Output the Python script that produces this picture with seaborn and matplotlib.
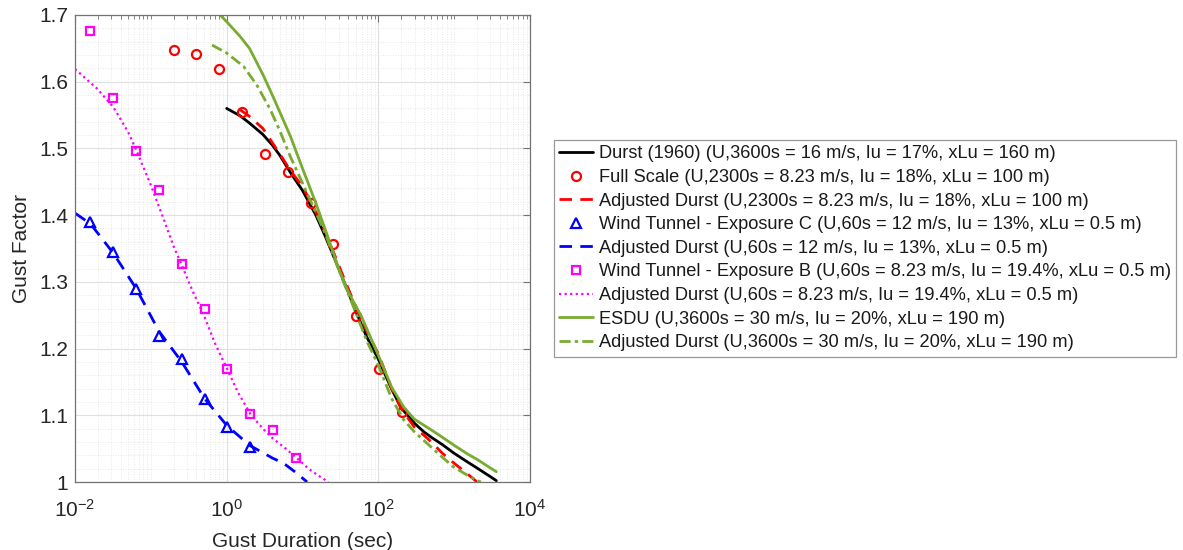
import numpy as np
import matplotlib
matplotlib.use('Agg')
import matplotlib.pyplot as plt
import matplotlib.ticker as mticker
import seaborn as sns

# Durst (1960)
durst_t = [1, 1.5, 2, 3, 4, 5, 7, 10, 15, 20, 30, 40, 50, 70, 100, 150, 200, 300, 400,
           500, 700, 1000, 1500, 2000, 3000, 3600]
durst_g = [1.560, 1.549, 1.538, 1.521, 1.505, 1.490, 1.463, 1.437, 1.400, 1.368, 1.320,
           1.285, 1.257, 1.218, 1.184, 1.139, 1.111, 1.088, 1.075, 1.067, 1.056, 1.043,
           1.030, 1.021, 1.008, 1.002]

# Full scale measurements
fs_t = [0.2, 0.4, 0.8, 1.6, 3.2, 6.4, 12.8, 25.6, 51.2, 102.4, 204.8]
fs_g = [1.648, 1.642, 1.619, 1.555, 1.491, 1.464, 1.418, 1.356, 1.249, 1.170, 1.105]

# Adjusted Durst, full scale
adjfs_t = [1.5, 2, 3, 5, 7, 10, 15, 20, 30, 40, 50, 75, 100, 150, 200, 300, 400, 500,
           700, 1000, 1400, 2000]
adjfs_g = [1.558, 1.548, 1.530, 1.492, 1.466, 1.443, 1.405, 1.375, 1.325, 1.290, 1.264,
           1.220, 1.192, 1.140, 1.110, 1.082, 1.070, 1.060, 1.043, 1.028, 1.015, 1.000]

# Wind tunnel - exposure C
wtc_t = [0.016, 0.032, 0.064, 0.128, 0.256, 0.512, 1.024, 2.048]
wtc_g = [1.390, 1.345, 1.289, 1.219, 1.184, 1.124, 1.083, 1.052]

adjc_t = [0.01, 0.016, 0.032, 0.064, 0.128, 0.256, 0.512, 1.0, 2.0, 4.0, 5.65, 8.0, 11.5]
adjc_g = [1.403, 1.387, 1.343, 1.290, 1.226, 1.180, 1.125, 1.085, 1.055, 1.036, 1.028,
          1.015, 1.000]

# Wind tunnel - exposure B
wtb_t = [0.016, 0.032, 0.064, 0.128, 0.256, 0.512, 1.024, 2.048, 4.096, 8.192]
wtb_g = [1.676, 1.576, 1.496, 1.438, 1.327, 1.259, 1.170, 1.102, 1.078, 1.036]

adjb_t = [0.01, 0.0194, 0.032, 0.05, 0.064, 0.1, 0.15, 0.2, 0.256, 0.35, 0.5, 0.7, 1.0,
          1.4, 2.05, 3.0, 4.0, 6.0, 8.0, 12, 16, 22]
adjb_g = [1.619, 1.590, 1.562, 1.525, 1.498, 1.445, 1.392, 1.353, 1.325, 1.288, 1.250,
          1.208, 1.171, 1.135, 1.102, 1.080, 1.066, 1.050, 1.038, 1.020, 1.010, 1.000]

# ESDU
esdu_t = [0.82, 1, 1.5, 2, 3, 4, 5, 7, 10, 15, 20, 30, 40, 60, 100, 150, 217, 300, 500,
          700, 1000, 1500, 2000, 3000, 3600]
esdu_g = [1.700, 1.690, 1.668, 1.650, 1.611, 1.580, 1.555, 1.517, 1.470, 1.418, 1.378,
          1.320, 1.285, 1.248, 1.190, 1.142, 1.112, 1.094, 1.078, 1.067, 1.055, 1.042,
          1.034, 1.021, 1.0155]

adjes_t = [0.64, 1, 1.67, 2.5, 3.77, 5, 6.9, 10, 15, 20, 30, 50, 70, 100, 150, 217, 300,
           490, 700, 970, 1500, 2240]
adjes_g = [1.655, 1.643, 1.623, 1.595, 1.558, 1.527, 1.488, 1.448, 1.404, 1.372, 1.318,
           1.255, 1.212, 1.175, 1.125, 1.093, 1.075, 1.053, 1.037, 1.023, 1.010, 1.000]

x_ticks = [1e-2, 1e0, 1e2, 1e4]
y_ticks = [1.0, 1.1, 1.2, 1.3, 1.4, 1.5, 1.6, 1.7]

labels = [
    'Durst (1960) (U,3600s = 16 m/s, Iu = 17%, xLu = 160 m)',
    'Full Scale (U,2300s = 8.23 m/s, Iu = 18%, xLu = 100 m)',
    'Adjusted Durst (U,2300s = 8.23 m/s, Iu = 18%, xLu = 100 m)',
    'Wind Tunnel - Exposure C (U,60s = 12 m/s, Iu = 13%, xLu = 0.5 m)',
    'Adjusted Durst (U,60s = 12 m/s, Iu = 13%, xLu = 0.5 m)',
    'Wind Tunnel - Exposure B (U,60s = 8.23 m/s, Iu = 19.4%, xLu = 0.5 m)',
    'Adjusted Durst (U,60s = 8.23 m/s, Iu = 19.4%, xLu = 0.5 m)',
    'ESDU (U,3600s = 30 m/s, Iu = 20%, xLu = 190 m)',
    'Adjusted Durst (U,3600s = 30 m/s, Iu = 20%, xLu = 190 m)',
]

sns.set_style('white')
plt.rcParams['font.family'] = ['Liberation Sans', 'DejaVu Sans']

green = (0.466, 0.674, 0.188)

fig = plt.figure(figsize=(11.83, 5.5), dpi=100)
ax = fig.add_axes([75 / 1183, 68 / 550, 455 / 1183, 467 / 550])

def line(t, g, label, **kw):
    sns.lineplot(x=t, y=g, ax=ax, estimator=None, sort=False, label=label, **kw)

def pts(t, g, label, marker, color, ms):
    sns.lineplot(x=t, y=g, ax=ax, estimator=None, sort=False, label=label,
                 linestyle='none', marker=marker, markersize=ms, markerfacecolor='none',
                 markeredgecolor=color, markeredgewidth=1.6, color=color)

line(durst_t, durst_g, labels[0], color='black', linewidth=2)
pts(fs_t, fs_g, labels[1], 'o', 'red', 6.5)
line(adjfs_t, adjfs_g, labels[2], color='red', linewidth=2, dashes=(4.5, 3))
pts(wtc_t, wtc_g, labels[3], '^', 'blue', 6.5)
line(adjc_t, adjc_g, labels[4], color='blue', linewidth=2, dashes=(4.5, 3))
pts(wtb_t, wtb_g, labels[5], 's', 'magenta', 5.5)
line(adjb_t, adjb_g, labels[6], color='magenta', linewidth=1.6, dashes=(1, 1.5))
line(esdu_t, esdu_g, labels[7], color=green, linewidth=2)
line(adjes_t, adjes_g, labels[8], color=green, linewidth=2, dashes=(4, 1.5, 1.2, 1.5))

ax.set_xscale('log')
ax.set_xlim(1e-2, 1e4)
ax.set_ylim(1.0, 1.7)
ax.set_xticks(x_ticks)
ax.xaxis.set_minor_locator(mticker.FixedLocator(
    [m * 10.0 ** e for e in range(-2, 4) for m in range(1, 10) if m > 1 or e % 2 == 1]))
ax.xaxis.set_minor_formatter(mticker.NullFormatter())
ax.set_yticks(y_ticks)
ax.yaxis.set_major_formatter(mticker.FuncFormatter(lambda v, p: '%g' % round(v, 2)))
ax.yaxis.set_minor_locator(mticker.MultipleLocator(0.02))

ax.grid(True, which='major', color='0.88', linewidth=0.8)
ax.grid(True, which='minor', color='0.88', linewidth=0.6, linestyle=(0, (1, 2)))
ax.set_axisbelow(True)
for s in ax.spines.values():
    s.set_color('0.45')
    s.set_linewidth(0.9)
ax.tick_params(which='both', direction='in', top=True, right=True, colors='0.45',
               labelcolor='0.15', labelsize=15)
ax.tick_params(which='major', length=5)
ax.tick_params(which='minor', length=3)
ax.tick_params(axis='y', which='minor', length=0)
ax.tick_params(axis='x', pad=12)
ax.tick_params(axis='y', pad=5)

ax.set_xlabel('Gust Duration (sec)', fontsize=15, color='0.15', labelpad=8)
ax.set_ylabel('Gust Factor', fontsize=15, color='0.15', labelpad=6)

handles, labs = ax.get_legend_handles_labels()
ax.legend_.remove()
leg = fig.legend(handles, labs, loc='upper left', bbox_to_anchor=(554 / 1183, 1 - 140 / 550),
                 fontsize=13.15, frameon=True, fancybox=False, edgecolor='0.5',
                 handlelength=1.85, handletextpad=0.3, labelspacing=0.36, borderpad=0.3,
                 borderaxespad=0, numpoints=1)
leg.get_frame().set_linewidth(0.9)
for t in leg.get_texts():
    t.set_color('0.1')

fig.savefig('out.png', dpi=100)
